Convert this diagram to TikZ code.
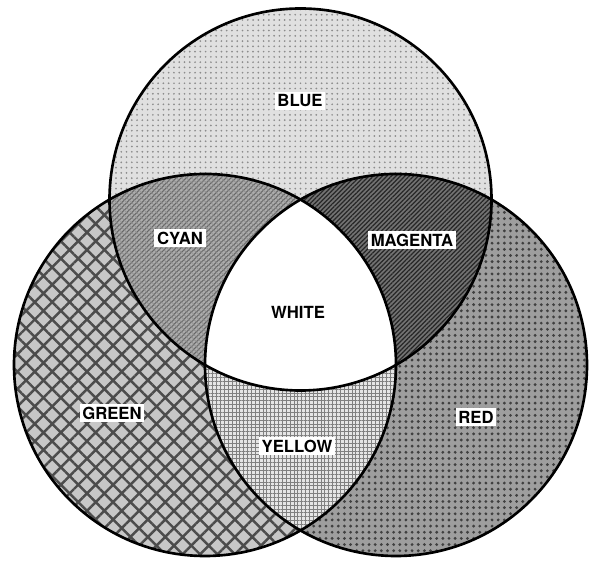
\documentclass[tikz,border=0pt]{standalone}
\usepackage{fontspec}
\setsansfont{TeX Gyre Heros}
\usetikzlibrary{patterns.meta}

\begin{document}
\begin{tikzpicture}[
    outline/.style={line width=1.5pt},
    regionlabel/.style={fill=white, inner sep=1.5pt, font=\sffamily\bfseries\fontsize{9.5}{11}\selectfont}
]
    \useasboundingbox (0,0) rectangle (11.96,11.26);
    \def\rad{3.82}

    % Circle centres
    \coordinate (blue) at (6.01,7.27);
    \coordinate (green) at (4.10,3.96);
    \coordinate (red) at (7.92,3.96);

    % Blue circle - light stipple
    \fill[black!12] (blue) circle (\rad);
    \fill[pattern={Dots[distance=3pt,radius=0.55pt]}, pattern color=black!45] (blue) circle (\rad);

    % Green circle - coarse cross hatch
    \fill[black!22] (green) circle (\rad);
    \fill[pattern={Hatch[angle=45,distance=7pt,line width=1.4pt]}, pattern color=black!70] (green) circle (\rad);

    % Red circle - dense dots
    \fill[black!38] (red) circle (\rad);
    \fill[pattern={Dots[distance=3.5pt,radius=0.9pt]}, pattern color=black!75] (red) circle (\rad);

    % Cyan - blue and green overlap
    \begin{scope}
        \clip (blue) circle (\rad);
        \fill[black!32] (green) circle (\rad);
        \fill[pattern={Lines[angle=45,distance=2pt,line width=0.6pt]}, pattern color=black!60] (green) circle (\rad);
        \fill[pattern={Lines[angle=-45,distance=2pt,line width=0.4pt]}, pattern color=black!45] (green) circle (\rad);
    \end{scope}

    % Magenta - blue and red overlap
    \begin{scope}
        \clip (blue) circle (\rad);
        \fill[black!55] (red) circle (\rad);
        \fill[pattern={Lines[angle=45,distance=1.8pt,line width=0.7pt]}, pattern color=black!85] (red) circle (\rad);
    \end{scope}

    % Yellow - green and red overlap
    \begin{scope}
        \clip (green) circle (\rad);
        \fill[black!10] (red) circle (\rad);
        \fill[pattern={Hatch[angle=0,distance=2.2pt,line width=0.35pt]}, pattern color=black!50] (red) circle (\rad);
    \end{scope}

    % White - all three overlap
    \begin{scope}
        \clip (blue) circle (\rad);
        \clip (green) circle (\rad);
        \fill[white] (red) circle (\rad);
    \end{scope}

    % Outlines
    \draw[outline] (blue) circle (\rad);
    \draw[outline] (green) circle (\rad);
    \draw[outline] (red) circle (\rad);

    % Labels
    \node[regionlabel] (bluelbl) at (6.00,9.24) {BLUE};
    \node[regionlabel] (cyanlbl) at (3.60,6.50) {CYAN};
    \node[regionlabel] (magentalbl) at (8.24,6.46) {MAGENTA};
    \node[regionlabel] (whitelbl) at (5.96,5.02) {WHITE};
    \node[regionlabel] (greenlbl) at (2.24,3.00) {GREEN};
    \node[regionlabel] (yellowlbl) at (5.94,2.34) {YELLOW};
    \node[regionlabel] (redlbl) at (9.52,2.92) {RED};
\end{tikzpicture}
\end{document}
